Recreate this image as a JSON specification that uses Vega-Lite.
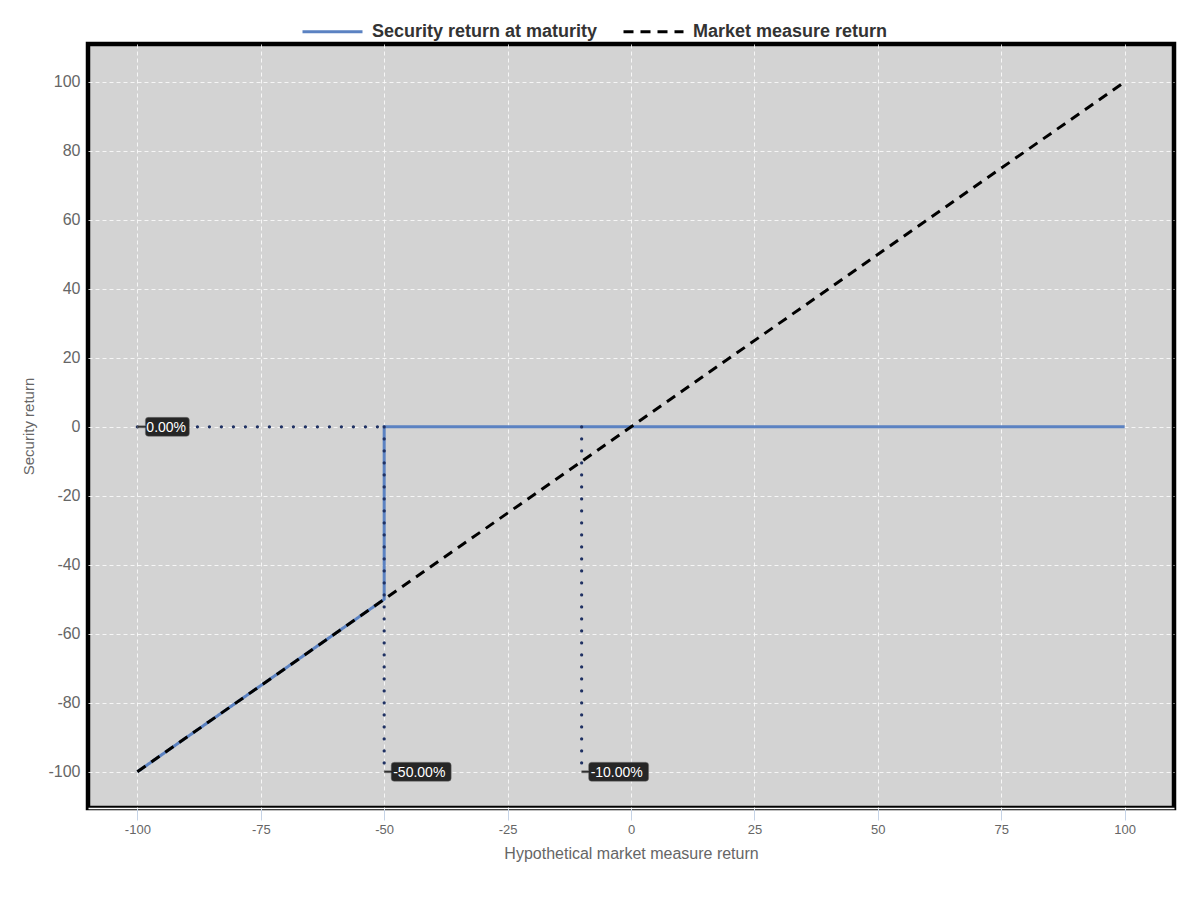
{
  "$schema": "https://vega.github.io/schema/vega-lite/v6.json",
  "autosize": "none",
  "padding": {"left": 88, "top": 44, "right": 26, "bottom": 92},
  "width": 1086,
  "height": 764,
  "background": "white",
  "config": {
    "view": {"fill": "#d3d3d3", "stroke": "#000000", "strokeWidth": 4.5},
    "font": "Liberation Sans",
    "axis": {
      "grid": true,
      "gridColor": "#ffffff",
      "gridDash": [4, 3],
      "gridOpacity": 0.8,
      "gridWidth": 1,
      "labelColor": "#666666",
      "titleColor": "#666666",
      "titleFontWeight": "normal",
      "labelFont": "Liberation Sans",
      "titleFont": "Liberation Sans",
      "labelExpr": "datum.value < 0 ? '-' + abs(datum.value) : '' + datum.value"
    }
  },
  "datasets": {
    "lines": [
      {"series": "Security return at maturity", "order": 1, "market": -100, "ret": -100},
      {"series": "Security return at maturity", "order": 2, "market": -50, "ret": -50},
      {"series": "Security return at maturity", "order": 3, "market": -50, "ret": 0},
      {"series": "Security return at maturity", "order": 4, "market": 100, "ret": 0},
      {"series": "Market measure return", "order": 1, "market": -100, "ret": -100},
      {"series": "Market measure return", "order": 2, "market": 100, "ret": 100}
    ],
    "guides": [
      {"seg": "h", "market": -100, "ret": 0},
      {"seg": "h", "market": -50, "ret": 0},
      {"seg": "v50", "market": -50, "ret": 0},
      {"seg": "v50", "market": -50, "ret": -100},
      {"seg": "v10", "market": -10, "ret": 0},
      {"seg": "v10", "market": -10, "ret": -100}
    ],
    "labels": [
      {"market": -100, "ret": 0, "label": "0.00%", "kind": "short"},
      {"market": -50, "ret": -100, "label": "-50.00%", "kind": "long"},
      {"market": -10, "ret": -100, "label": "-10.00%", "kind": "long"}
    ]
  },
  "layer": [
    {
      "data": {"name": "lines"},
      "mark": {"type": "line", "strokeWidth": 3, "strokeCap": "butt"},
      "encoding": {
        "x": {
          "field": "market", "type": "quantitative",
          "scale": {"domain": [-110, 110], "nice": false, "zero": false},
          "axis": {
            "values": [-100, -75, -50, -25, 0, 25, 50, 75, 100],
            "title": "Hypothetical market measure return",
            "titleFontSize": 16,
            "titlePadding": 9,
            "labelFontSize": 13,
            "labelPadding": 3,
            "ticks": true,
            "tickColor": "#c5d3e6",
            "tickSize": 12,
            "tickWidth": 1,
            "domain": true,
            "domainColor": "#ffffff",
            "domainWidth": 1.5
          }
        },
        "y": {
          "field": "ret", "type": "quantitative",
          "scale": {"domain": [-110.5, 111], "nice": false, "zero": false},
          "axis": {
            "values": [-100, -80, -60, -40, -20, 0, 20, 40, 60, 80, 100],
            "title": "Security return",
            "titleFontSize": 15,
            "titlePadding": 11,
            "labelFontSize": 16,
            "labelPadding": 8,
            "ticks": false,
            "domain": false
          }
        },
        "order": {"field": "order"},
        "color": {
          "field": "series", "type": "nominal",
          "scale": {
            "domain": ["Security return at maturity", "Market measure return"],
            "range": ["#5b82c2", "#000000"]
          },
          "legend": {
            "title": null,
            "orient": "none",
            "direction": "horizontal",
            "legendX": 213,
            "legendY": -44,
            "symbolType": "stroke",
            "symbolSize": 3600,
            "symbolStrokeWidth": 3,
            "labelFont": "Liberation Sans",
            "labelFontSize": 18,
            "labelFontWeight": "bold",
            "labelColor": "#333333",
            "labelOffset": 8,
            "labelLimit": 0,
            "columnPadding": 19
          }
        },
        "strokeDash": {
          "field": "series", "type": "nominal",
          "scale": {
            "domain": ["Security return at maturity", "Market measure return"],
            "range": [[1, 0], [10, 7]]
          },
          "legend": null
        }
      }
    },
    {
      "data": {"name": "guides"},
      "mark": {"type": "line", "color": "#1f3163", "strokeWidth": 3.2, "strokeCap": "round", "strokeDash": [0.1, 11.9]},
      "encoding": {
        "x": {"field": "market", "type": "quantitative"},
        "y": {"field": "ret", "type": "quantitative"},
        "detail": {"field": "seg"}
      }
    },
    {
      "data": {"name": "labels"},
      "transform": [{"filter": "datum.kind === 'short'"}],
      "mark": {
        "type": "point",
        "filled": true,
        "color": "#262626",
        "opacity": 1,
        "stroke": "#777777",
        "strokeWidth": 0.5,
        "size": 400,
        "shape": "M0,-0.1 H0.8 V-0.65 Q0.8,-0.95 1.1,-0.95 H4.9 Q5.2,-0.95 5.2,-0.65 V0.65 Q5.2,0.95 4.9,0.95 H1.1 Q0.8,0.95 0.8,0.65 V0.1 H0 Z"
      },
      "encoding": {
        "x": {"field": "market", "type": "quantitative"},
        "y": {"field": "ret", "type": "quantitative"}
      }
    },
    {
      "data": {"name": "labels"},
      "transform": [{"filter": "datum.kind === 'long'"}],
      "mark": {
        "type": "point",
        "filled": true,
        "color": "#262626",
        "opacity": 1,
        "stroke": "#777777",
        "strokeWidth": 0.5,
        "size": 400,
        "shape": "M0,-0.1 H0.7 V-0.65 Q0.7,-0.95 1,-0.95 H6.4 Q6.7,-0.95 6.7,-0.65 V0.65 Q6.7,0.95 6.4,0.95 H1 Q0.7,0.95 0.7,0.65 V0.1 H0 Z"
      },
      "encoding": {
        "x": {"field": "market", "type": "quantitative"},
        "y": {"field": "ret", "type": "quantitative"}
      }
    },
    {
      "data": {"name": "labels"},
      "mark": {"type": "text", "align": "left", "baseline": "middle", "dx": 9, "dy": 1, "color": "#ffffff", "font": "Liberation Sans", "fontSize": 14},
      "encoding": {
        "x": {"field": "market", "type": "quantitative"},
        "y": {"field": "ret", "type": "quantitative"},
        "text": {"field": "label"}
      }
    }
  ]
}
